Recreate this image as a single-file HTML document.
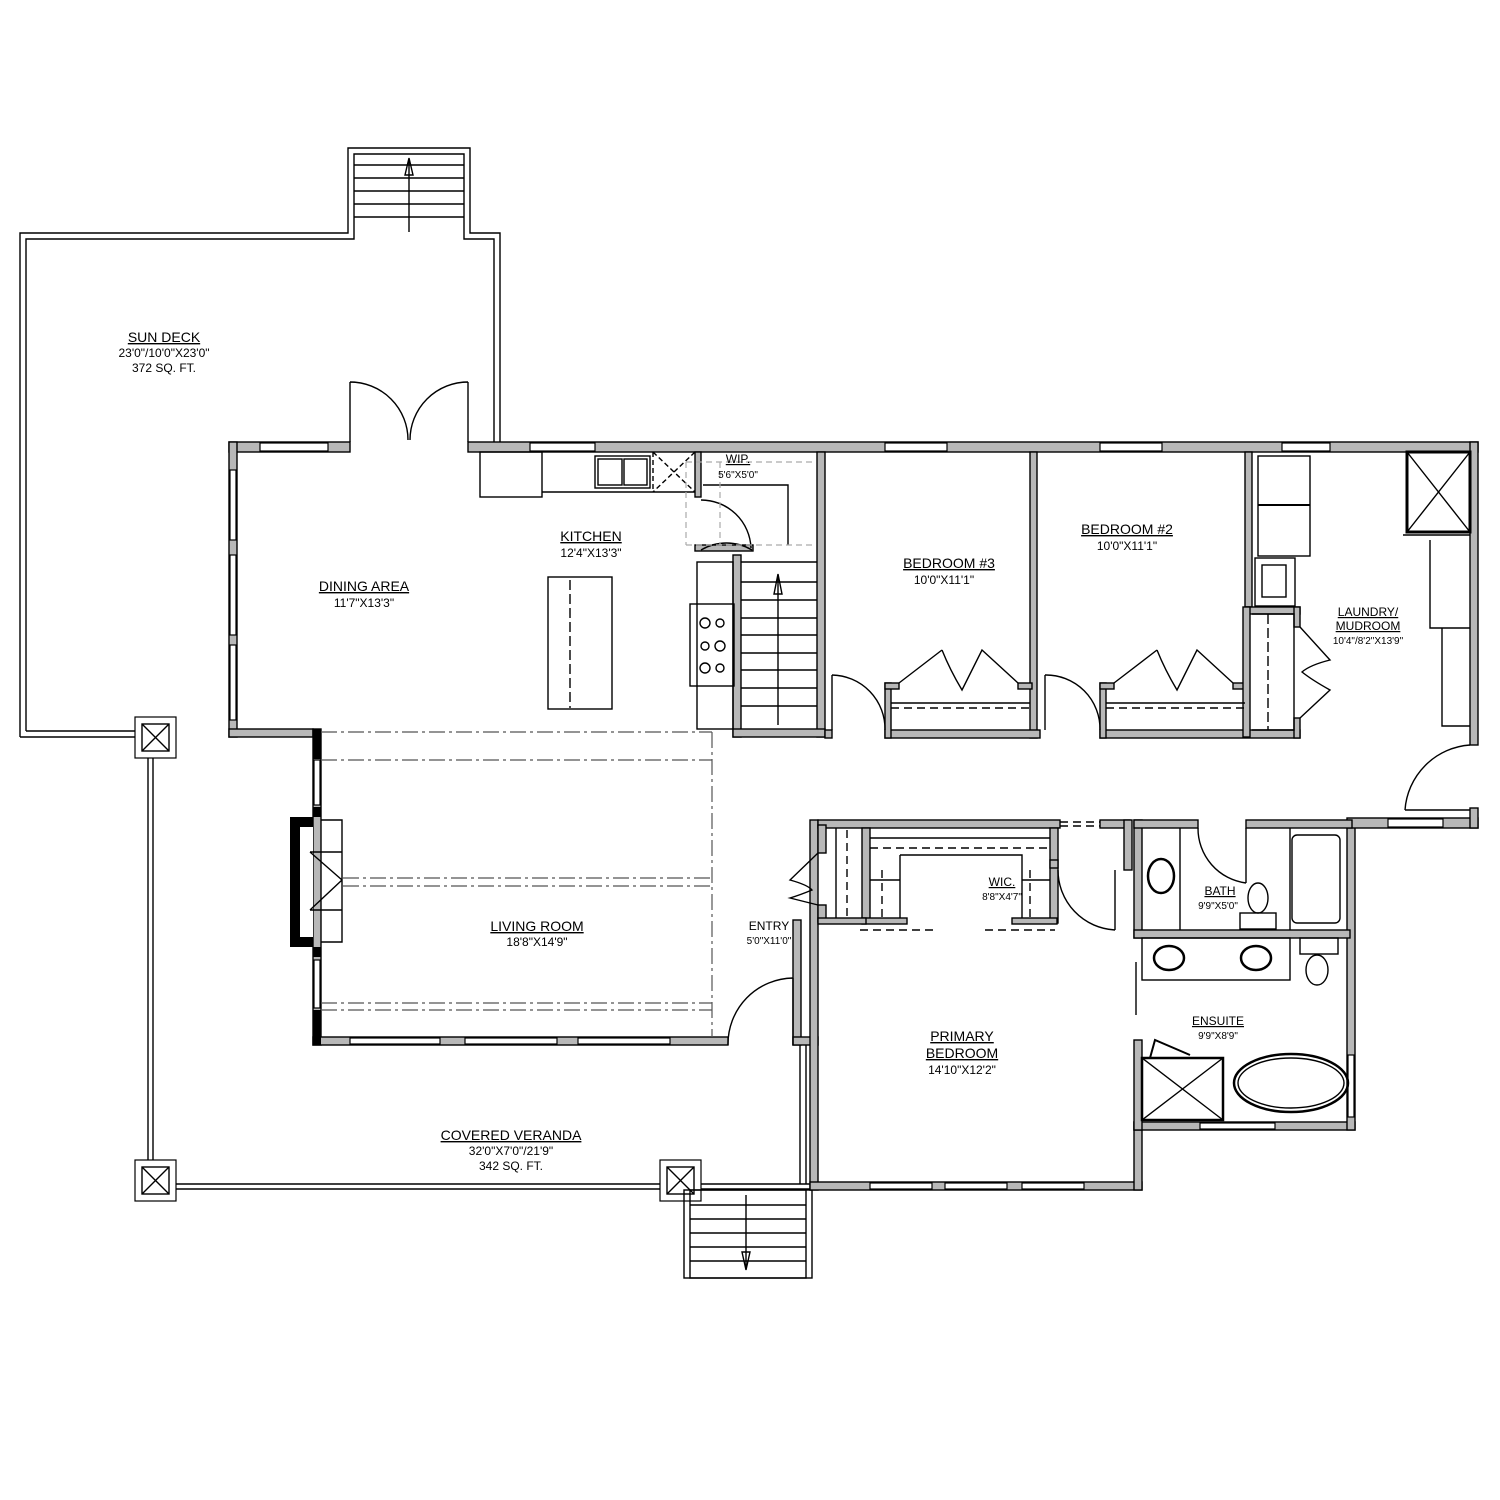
<!DOCTYPE html>
<html><head><meta charset="utf-8"><style>
body{margin:0;background:#fff}
svg{display:block}
.w{fill:#b8b8b8;stroke:#000;stroke-width:1.4}
.l{fill:none;stroke:#000;stroke-width:1.4}
.d{fill:none;stroke:#000;stroke-width:1.4;stroke-dasharray:8 5}
.dd{fill:none;stroke:#555;stroke-width:1.2;stroke-dasharray:16 4 3 4}
.g{fill:none;stroke:#aaa;stroke-width:1.2;stroke-dasharray:6 4}
.win{fill:#fff;stroke:#000;stroke-width:1.2}
text{font-family:"Liberation Sans",sans-serif;fill:#000;text-anchor:middle}
.t{font-size:14px;text-decoration:underline}
.s{font-size:12px}
.tt{font-size:12px;text-decoration:underline}
.ss{font-size:10px}
</style></head><body>
<svg width="1500" height="1500" viewBox="0 0 1500 1500" xmlns="http://www.w3.org/2000/svg">
<!-- Sun deck -->
<path class="l" d="M20 737 V233 H348 V148 H470 V233 H500 V442" stroke-width="1.2"/>
<path class="l" d="M26 731 V239 H354 V154 H464 V239 H494 V442" stroke-width="1.2"/>
<line class="l" x1="20" y1="737" x2="135" y2="737"/><line class="l" x1="26" y1="731" x2="135" y2="731"/>
<!-- top stairs -->
<g class="l">
<line x1="354" y1="165" x2="464" y2="165"/><line x1="354" y1="178" x2="464" y2="178"/><line x1="354" y1="191" x2="464" y2="191"/><line x1="354" y1="204" x2="464" y2="204"/><line x1="354" y1="217" x2="464" y2="217"/>
<line x1="409" y1="160" x2="409" y2="232"/><path d="M405 175 L409 158 L413 175 Z"/>
</g>
<!-- veranda lines -->
<path class="l" d="M148 757 V1160 M153 757 V1160 M176 1184 H660 M176 1189 H660 M700 1184 H810 M700 1189 H810 M800 1045 V1184 M806 1045 V1184"/>
<!-- posts -->
<g>
<rect x="135" y="717" width="41" height="41" class="win"/><rect x="142" y="724" width="27" height="27" class="l"/><path class="l" d="M142 724 L169 751 M169 724 L142 751"/>
<rect x="135" y="1160" width="41" height="41" class="win"/><rect x="142" y="1167" width="27" height="27" class="l"/><path class="l" d="M142 1167 L169 1194 M169 1167 L142 1194"/>
<rect x="660" y="1160" width="41" height="41" class="win"/><rect x="667" y="1167" width="27" height="27" class="l"/><path class="l" d="M667 1167 L694 1194 M694 1167 L667 1194"/>
</g>
<!-- bottom stairs -->
<g class="l">
<rect x="684" y="1190" width="128" height="88"/><rect x="690" y="1190" width="116" height="88"/>
<line x1="690" y1="1205" x2="806" y2="1205"/><line x1="690" y1="1219" x2="806" y2="1219"/><line x1="690" y1="1233" x2="806" y2="1233"/><line x1="690" y1="1247" x2="806" y2="1247"/><line x1="690" y1="1261" x2="806" y2="1261"/>
<line x1="746" y1="1195" x2="746" y2="1268"/><path d="M742 1252 L746 1270 L750 1252 Z"/>
</g>
<!-- double door to deck -->
<path class="l" d="M350 442 V382 M468 442 V382 M350 382 A58 58 0 0 1 408 440 M468 382 A58 58 0 0 0 410 440"/>

<!-- WALLS -->
<g class="w">
<rect x="229" y="442" width="121" height="10"/>
<rect x="468" y="442" width="1010" height="10"/>
<rect x="229" y="442" width="8" height="295"/>
<rect x="229" y="729" width="84" height="8"/>
<rect x="313" y="729" width="8" height="316"/>
<rect x="313" y="1037" width="415" height="8"/>
<rect x="793" y="920" width="8" height="125"/>
<rect x="793" y="1037" width="25" height="8"/>
<rect x="810" y="820" width="8" height="370"/>
<rect x="810" y="1182" width="332" height="8"/>
<rect x="1134" y="1122" width="8" height="68"/>
<rect x="1134" y="1122" width="221" height="8"/>
<rect x="1347" y="820" width="8" height="310"/>
<rect x="1347" y="818" width="131" height="10"/>
<rect x="1470" y="442" width="8" height="303"/>
<rect x="1470" y="808" width="8" height="20"/>
<!-- kitchen / stair -->
<rect x="695" y="452" width="6" height="45"/>
<rect x="695" y="545" width="58" height="6"/>
<rect x="733" y="555" width="8" height="182"/>
<rect x="817" y="452" width="8" height="285"/>
<rect x="733" y="729" width="92" height="8"/>
<!-- bedrooms -->
<rect x="1030" y="452" width="7" height="286"/>
<rect x="1245" y="452" width="7" height="155"/>
<rect x="825" y="730" width="7" height="8"/>
<rect x="885" y="730" width="155" height="8"/>
<rect x="885" y="683" width="6" height="55"/>
<rect x="885" y="683" width="14" height="6"/>
<rect x="1018" y="683" width="14" height="6"/>
<rect x="1100" y="730" width="200" height="8"/>
<rect x="1100" y="683" width="6" height="55"/>
<rect x="1100" y="683" width="14" height="6"/>
<rect x="1233" y="683" width="14" height="6"/>
<rect x="1245" y="607" width="55" height="7"/>
<rect x="1294" y="607" width="6" height="20"/>
<rect x="1294" y="718" width="6" height="20"/>
<rect x="1243" y="607" width="7" height="130"/>
<!-- primary / wic / bath -->
<rect x="818" y="820" width="242" height="8"/>
<rect x="1100" y="820" width="30" height="8"/>
<rect x="1124" y="820" width="8" height="50"/>
<rect x="818" y="825" width="8" height="28"/>
<rect x="818" y="905" width="8" height="17"/>
<rect x="862" y="828" width="8" height="95"/>
<rect x="1050" y="828" width="8" height="95"/>
<rect x="862" y="918" width="45" height="6"/>
<rect x="1012" y="918" width="45" height="6"/>
<rect x="818" y="918" width="48" height="6"/>
<rect x="1050" y="860" width="8" height="8"/>
<rect x="1134" y="820" width="8" height="118"/>
<rect x="1134" y="820" width="64" height="8"/>
<rect x="1246" y="820" width="106" height="8"/>
<rect x="1134" y="930" width="216" height="8"/>
<rect x="1134" y="1040" width="8" height="90"/>
</g>
<!-- fireplace -->
<rect x="290" y="817" width="23" height="130" fill="#000"/>
<rect x="300" y="827" width="13" height="110" fill="#fff"/>
<path class="l" d="M321 820 H342 V942 H321 M310 852 H342 M310 910 H342 M310 852 L342 880 M310 910 L342 880"/>
<rect x="313" y="729" width="8" height="30" fill="#000"/>
<rect x="313" y="1010" width="8" height="35" fill="#000"/>
<rect x="313" y="947" width="8" height="10" fill="#000"/>
<rect x="313" y="807" width="8" height="10" fill="#000"/>

<!-- windows -->
<g class="win">
<rect x="260" y="443" width="68" height="8"/>
<rect x="530" y="443" width="65" height="8"/>
<rect x="885" y="443" width="62" height="8"/>
<rect x="1100" y="443" width="62" height="8"/>
<rect x="1282" y="443" width="48" height="8"/>
<rect x="230" y="470" width="6" height="70"/><rect x="230" y="555" width="6" height="80"/><rect x="230" y="645" width="6" height="75"/>
<rect x="314" y="760" width="6" height="45"/><rect x="314" y="960" width="6" height="48"/>
<rect x="350" y="1038" width="90" height="6"/><rect x="465" y="1038" width="92" height="6"/><rect x="578" y="1038" width="92" height="6"/>
<rect x="870" y="1183" width="62" height="6"/><rect x="945" y="1183" width="62" height="6"/><rect x="1022" y="1183" width="62" height="6"/>
<rect x="1200" y="1123" width="75" height="6"/>
<rect x="1348" y="1055" width="6" height="62"/>
<rect x="1388" y="819" width="55" height="8"/>
</g>
<!-- hall dashed top -->
<path class="d" d="M1060 822 H1100 M1060 826 H1100" stroke-width="1"/>

<!-- kitchen -->
<g class="l">
<rect x="480" y="452" width="62" height="45"/>
<path d="M542 492 H695"/>
<rect x="595" y="456" width="55" height="32"/><rect x="598" y="459" width="24" height="26"/><rect x="624" y="459" width="23" height="26"/>
<path d="M653 452 V492 M653 452 L695 492 M695 452 L653 492" stroke-dasharray="5 3"/>
<rect x="548" y="577" width="64" height="132"/>
<path d="M570 580 V708" stroke-dasharray="10 4"/>
<rect x="697" y="562" width="36" height="167"/>
<rect x="690" y="604" width="44" height="82"/>
<circle cx="705" cy="623" r="5"/><circle cx="720" cy="623" r="4"/><circle cx="705" cy="646" r="4"/><circle cx="720" cy="646" r="5"/><circle cx="705" cy="668" r="5"/><circle cx="720" cy="668" r="4"/>
<path d="M701 550 A50 50 0 0 1 752 550 M701 500 A50 50 0 0 1 751 548"/>
<path d="M703 485 H788 V545"/>
</g>
<path class="g" d="M686 462 H815 M686 545 H815 M686 462 V545 M720 462 V545"/>
<!-- stairs -->
<g class="l">
<path d="M741 562 H817"/>
<line x1="741" y1="582" x2="817" y2="582"/><line x1="741" y1="600" x2="817" y2="600"/><line x1="741" y1="618" x2="817" y2="618"/><line x1="741" y1="635" x2="817" y2="635"/><line x1="741" y1="653" x2="817" y2="653"/><line x1="741" y1="670" x2="817" y2="670"/><line x1="741" y1="688" x2="817" y2="688"/><line x1="741" y1="706" x2="817" y2="706"/>
<line x1="778" y1="575" x2="778" y2="725"/><path d="M774 594 L778 574 L782 594 Z"/>
</g>
<!-- dash-dot lines living -->
<path class="dd" d="M321 732 H712 M321 760 H712 M343 878 H712 M343 886 H712 M321 1003 H712 M321 1010 H712 M712 732 V1037"/>

<!-- bedroom doors & closets -->
<g class="l">
<path d="M832 675 A54 54 0 0 1 885 730"/><path d="M832 675 V730"/>
<path d="M1045 675 A54 54 0 0 1 1100 730"/><path d="M1045 675 V730"/>
<path d="M899 683 L942 650 M942 650 Q950 670 962 690 Q972 670 982 650 L1018 683"/>
<path d="M1114 683 L1157 650 M1157 650 Q1165 670 1177 690 Q1187 670 1197 650 L1233 683"/>
<path d="M891 703 H1030 M1106 703 H1245"/>
<path class="d" d="M891 708 H1030 M1106 708 H1245"/>
<!-- laundry -->
<rect x="1407" y="452" width="63" height="80" stroke-width="3"/><path d="M1407 452 L1470 532 M1470 452 L1407 532"/>
<path d="M1403 535 H1470 M1430 540 V628 H1470 M1442 628 V726 H1470"/>
<rect x="1258" y="456" width="52" height="100"/><path d="M1258 505 H1310" stroke-width="2"/>
<rect x="1255" y="558" width="40" height="48"/><rect x="1262" y="565" width="24" height="32"/>
<path d="M1252 614 H1294 V730 H1252 M1300 627 L1330 660 Q1310 665 1302 672 Q1312 680 1330 690 L1300 718"/>
<path d="M1405 810 A70 70 0 0 1 1470 745 M1405 810 H1470"/>
<path d="M1268 614 V730" stroke-dasharray="10 4"/>
</g>
<!-- entry door -->
<path class="l" d="M728 1045 A66 66 0 0 1 793 978 M793 978 V1045"/>
<path class="l" d="M818 853 L790 880 Q808 885 812 890 Q800 895 790 898 L818 905"/>
<!-- WIC details -->
<g class="l">
<path d="M836 828 V918 M870 838 H1050 M870 880 H900 M900 855 H1022 V918 M900 855 V918 M1022 880 H1050"/>
<path class="d" d="M847 830 V918 M870 848 H1050 M882 870 V918 M1030 870 V918 M860 930 H935 M985 930 H1055"/>
<path d="M1058 870 A60 60 0 0 0 1115 930 M1115 870 V930"/>
</g>
<!-- bath -->
<g class="l">
<path d="M1180 828 V930 M1290 828 V930"/>
<ellipse cx="1161" cy="876" rx="13" ry="17" stroke-width="2.5"/>
<path d="M1198 828 A55 55 0 0 0 1246 883 M1246 828 V883"/>
<ellipse cx="1258" cy="898" rx="10" ry="15"/><rect x="1240" y="913" width="36" height="16"/>
<rect x="1292" y="835" width="48" height="88" rx="5"/>
<rect x="1142" y="938" width="148" height="42"/>
<ellipse cx="1169" cy="958" rx="15" ry="12" stroke-width="2.5"/><ellipse cx="1256" cy="958" rx="15" ry="12" stroke-width="2.5"/>
<rect x="1300" y="938" width="38" height="16"/><ellipse cx="1317" cy="970" rx="11" ry="15"/>
<path d="M1136 962 V1015"/>
<rect x="1142" y="1058" width="81" height="62" stroke-width="2.5"/><path d="M1142 1058 L1223 1120 M1223 1058 L1142 1120"/>
<path d="M1150 1058 L1155 1040 L1190 1055" stroke-width="2"/>
<ellipse cx="1291" cy="1083" rx="57" ry="29" stroke-width="2.5"/><ellipse cx="1291" cy="1083" rx="53" ry="25"/>
</g>

<!-- labels -->
<text x="164" y="342" class="t">SUN  DECK</text>
<text x="164" y="357" class="s">23'0"/10'0"X23'0"</text>
<text x="164" y="372" class="s">372  SQ.  FT.</text>
<text x="364" y="591" class="t">DINING  AREA</text>
<text x="364" y="607" class="s">11'7"X13'3"</text>
<text x="591" y="541" class="t">KITCHEN</text>
<text x="591" y="557" class="s">12'4"X13'3"</text>
<text x="738" y="463" class="tt">WIP.</text>
<text x="738" y="478" class="ss">5'6"X5'0"</text>
<text x="949" y="568" class="t">BEDROOM  #3</text>
<text x="944" y="584" class="s">10'0"X11'1"</text>
<text x="1127" y="534" class="t">BEDROOM  #2</text>
<text x="1127" y="550" class="s">10'0"X11'1"</text>
<text x="1368" y="616" class="tt">LAUNDRY/</text>
<text x="1368" y="630" class="tt">MUDROOM</text>
<text x="1368" y="644" class="ss">10'4"/8'2"X13'9"</text>
<text x="537" y="931" class="t">LIVING  ROOM</text>
<text x="537" y="946" class="s">18'8"X14'9"</text>
<text x="769" y="930" class="s">ENTRY</text>
<text x="769" y="944" class="ss">5'0"X11'0"</text>
<text x="1002" y="886" class="tt">WIC.</text>
<text x="1002" y="900" class="ss">8'8"X4'7"</text>
<text x="1220" y="895" class="tt">BATH</text>
<text x="1218" y="909" class="ss">9'9"X5'0"</text>
<text x="1218" y="1025" class="tt">ENSUITE</text>
<text x="1218" y="1039" class="ss">9'9"X8'9"</text>
<text x="962" y="1041" class="t">PRIMARY</text>
<text x="962" y="1058" class="t">BEDROOM</text>
<text x="962" y="1074" class="s">14'10"X12'2"</text>
<text x="511" y="1140" class="t">COVERED  VERANDA</text>
<text x="511" y="1155" class="s">32'0"X7'0"/21'9"</text>
<text x="511" y="1170" class="s">342  SQ.  FT.</text>
</svg>
</body></html>
